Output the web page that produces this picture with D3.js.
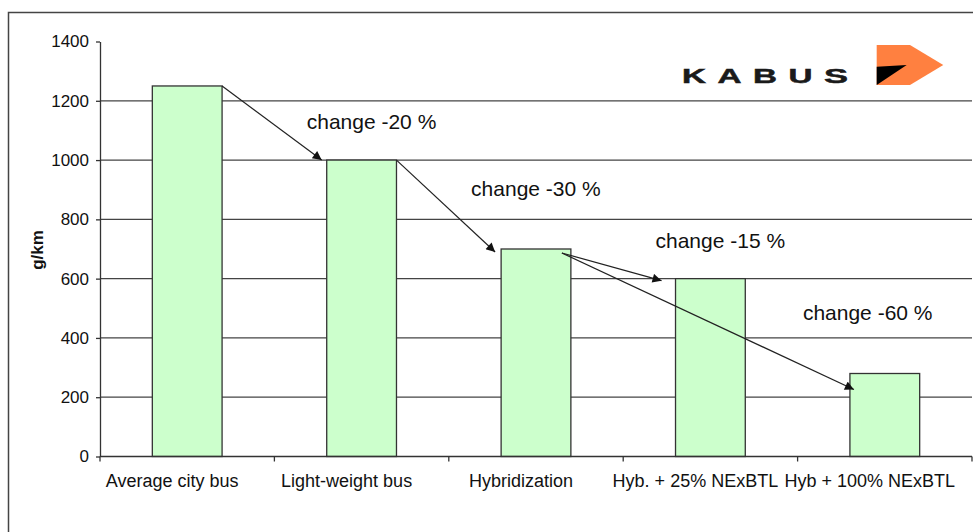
<!DOCTYPE html>
<html>
<head>
<meta charset="utf-8">
<script src="https://cdn.jsdelivr.net/npm/d3@7"></script>
<style>
  html, body { margin: 0; padding: 0; background: #fff; }
  svg { display: block; font-family: Arial, "Liberation Sans", sans-serif; }
</style>
</head>
<body>
<div id="canvas"></div>
<script>
// Data
const categories = ["Average city bus", "Light-weight bus", "Hybridization", "Hyb. + 25% NExBTL", "Hyb + 100% NExBTL"];
const values = [1250, 1000, 700, 600, 280]; // g/km
const yTicks = [0, 200, 400, 600, 800, 1000, 1200, 1400];
const changeFrom = [0, 1, 2, 2];
const changeTo = [1, 2, 3, 4];
const changeLabels = ["change -20 %", "change -30 %", "change -15 %", "change -60 %"];

const width = 973;
const height = 532;

// arrow tweaks in pixels (start dx/dy, end dx/dy) and label offsets, hand-drawn in original
const arrowNudge = [
  { sx: 0, sy: 0, ex: -5, ey: 0 },
  { sx: 0, sy: 0, ex: -6, ey: 3 },
  { sx: -9, sy: 4, ex: -14, ey: 2 },
  { sx: -9, sy: 4, ex: 4, ey: 16 }
];
const labelPos = [
  { dx: -20, y: 1105 },
  { dx: -30, y: 880 },
  { dx: -20, y: 705 },
  { dx: -47, y: 462 }
];

const svg = d3.select('#canvas').append('svg')
  .attr('width', width)
  .attr('height', height);

// outer frame (runs off the picture on the right and bottom)
svg.append('rect')
  .attr('x', 8.5).attr('y', 12.5)
  .attr('width', 1000).attr('height', 600)
  .attr('fill', 'none')
  .attr('stroke', '#444')
  .attr('stroke-width', 1.5);

const x = d3.scaleBand()
  .domain(categories)
  .range([100, 972])
  .paddingInner(0.6)
  .paddingOuter(0.3);

const y = d3.scaleLinear()
  .domain([0, 1400])
  .range([456.5, 41.5]);

// gridlines
svg.append('g').selectAll('line')
  .data(yTicks.filter(t => t > 0 && t < 1400))
  .enter().append('line')
  .attr('x1', 100).attr('x2', 972)
  .attr('y1', d => y(d)).attr('y2', d => y(d))
  .attr('stroke', '#444')
  .attr('stroke-width', 1.3);

// y axis
const yAxis = svg.append('g')
  .attr('transform', 'translate(100,0)')
  .call(d3.axisLeft(y).tickValues(yTicks).tickFormat(d3.format('d'))
    .tickSize(4).tickPadding(7).tickSizeOuter(0));
yAxis.select('.domain').attr('stroke', '#333').attr('stroke-width', 1.3);
yAxis.selectAll('.tick line').attr('stroke', '#333').attr('stroke-width', 1.3);
yAxis.selectAll('.tick text')
  .attr('font-size', 17)
  .attr('font-family', 'Arial, "Liberation Sans", sans-serif')
  .attr('fill', '#111');

// y axis title
svg.append('text')
  .attr('transform', 'translate(43,250) rotate(-90)')
  .attr('text-anchor', 'middle')
  .attr('font-size', 17)
  .attr('font-weight', 'bold')
  .attr('fill', '#111')
  .text('g/km');

// bars
svg.append('g').selectAll('rect')
  .data(values)
  .enter().append('rect')
  .attr('x', (d, i) => x(categories[i]))
  .attr('y', d => y(d))
  .attr('width', x.bandwidth())
  .attr('height', d => y(0) - y(d))
  .attr('fill', '#ccffcc')
  .attr('stroke', '#333')
  .attr('stroke-width', 1.3);

// x axis: line plus ticks at category boundaries
const step = x.step();
const xEdges = d3.range(categories.length + 1).map(i => 100 + i * step);
svg.append('line')
  .attr('x1', 100).attr('x2', 972)
  .attr('y1', y(0)).attr('y2', y(0))
  .attr('stroke', '#333').attr('stroke-width', 1.3);
svg.append('g').selectAll('line')
  .data(xEdges)
  .enter().append('line')
  .attr('x1', d => d).attr('x2', d => d)
  .attr('y1', y(0)).attr('y2', y(0) + 5)
  .attr('stroke', '#333').attr('stroke-width', 1.3);

svg.append('g').selectAll('text')
  .data(categories)
  .enter().append('text')
  .attr('x', d => x(d) + x.bandwidth() / 2 - 15)
  .attr('y', 487)
  .attr('text-anchor', 'middle')
  .attr('font-size', 18)
  .attr('fill', '#111')
  .text(d => d);

// change arrows
svg.append('defs').append('marker')
  .attr('id', 'arrowhead')
  .attr('viewBox', '0 0 10 10')
  .attr('refX', 10).attr('refY', 5)
  .attr('markerWidth', 11).attr('markerHeight', 9)
  .attr('markerUnits', 'userSpaceOnUse')
  .attr('orient', 'auto')
  .append('path')
  .attr('d', 'M0,0 L10,5 L0,10 Z')
  .attr('fill', '#111');

svg.append('g').selectAll('line')
  .data(changeFrom)
  .enter().append('line')
  .attr('x1', (d, i) => x(categories[d]) + x.bandwidth() + arrowNudge[i].sx)
  .attr('y1', (d, i) => y(values[d]) + arrowNudge[i].sy)
  .attr('x2', (d, i) => x(categories[changeTo[i]]) + arrowNudge[i].ex)
  .attr('y2', (d, i) => y(values[changeTo[i]]) + arrowNudge[i].ey)
  .attr('stroke', '#222')
  .attr('stroke-width', 1.2)
  .attr('marker-end', 'url(#arrowhead)');

svg.append('g').selectAll('text')
  .data(changeLabels)
  .enter().append('text')
  .attr('x', (d, i) => x(categories[changeTo[i]]) + labelPos[i].dx)
  .attr('y', (d, i) => y(labelPos[i].y))
  .attr('font-size', 21)
  .attr('fill', '#111')
  .text(d => d);

// KABUS logo: wide, spaced capitals then the orange chevron
const logo = svg.append('g');
logo.selectAll('text')
  .data('KABUS'.split(''))
  .enter().append('text')
  .attr('x', (d, i) => 682 + i * 35.5)
  .attr('y', 82.5)
  .attr('textLength', 24)
  .attr('lengthAdjust', 'spacingAndGlyphs')
  .attr('font-size', 20)
  .attr('font-weight', 'bold')
  .attr('fill', '#1a1a1a')
  .attr('stroke', '#1a1a1a')
  .attr('stroke-width', 0.5)
  .text(d => d);
logo.append('path')
  .attr('d', 'M876.7,45 L910,45 L943.3,65 L910,85 L876.7,85 Z')
  .attr('fill', '#ff8040');
logo.append('path')
  .attr('d', 'M876.7,66.7 L906.7,65 L876.7,85 Z')
  .attr('fill', '#000');
</script>
</body>
</html>
